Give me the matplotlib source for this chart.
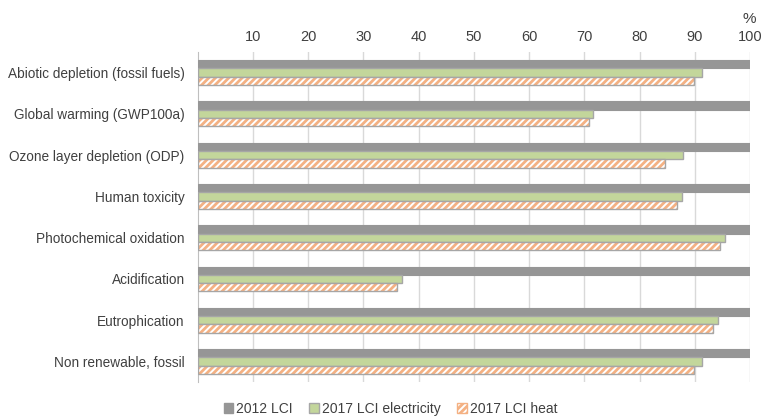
import matplotlib.pyplot as plt
import matplotlib.patches as mpatches
import numpy as np

plt.rcParams['font.family'] = ['Liberation Sans', 'DejaVu Sans']
plt.rcParams['hatch.linewidth'] = 2.0

# categories, top to bottom
categories = ['Abiotic depletion (fossil fuels)', 'Global warming (GWP100a)',
              'Ozone layer depletion (ODP)', 'Human toxicity',
              'Photochemical oxidation', 'Acidification', 'Eutrophication',
              'Non renewable, fossil']
lci_2012 = [100, 100, 100, 100, 100, 100, 100, 100]
lci_2017_elec = [91.3, 71.6, 87.9, 87.7, 95.5, 37.0, 94.2, 91.3]
lci_2017_heat = [89.8, 70.8, 84.6, 86.8, 94.5, 36.1, 93.3, 89.8]
xticks = [10, 20, 30, 40, 50, 60, 70, 80, 90, 100]

gray = '#969696'
green = '#c3d69b'
orange = '#f4b183'
edge = '#a6a6a6'
txt = '#404040'

fig = plt.figure(figsize=(7.61, 4.19), dpi=100)
ax = fig.add_axes([0.260, 0.088, 0.7255, 0.788])

y = np.arange(len(categories))
h = 0.2

ax.barh(y - h, lci_2012, height=h, color=gray, edgecolor=gray, linewidth=0.8, zorder=3)
ax.barh(y, lci_2017_elec, height=h, color=green, edgecolor=edge, linewidth=1.0, zorder=3)
# hatched bar: hatch drawn in orange, border drawn separately in gray
ax.barh(y + h, lci_2017_heat, height=h, color='white', edgecolor=orange,
        hatch='/////', linewidth=0, zorder=3)
ax.barh(y + h, lci_2017_heat, height=h, fill=False, edgecolor=edge, linewidth=1.0, zorder=4)

ax.set_xlim(0, 100)
ax.set_ylim(len(categories) - 0.5, -0.5)
ax.set_yticks(y)
ax.set_yticklabels(categories, fontsize=9.8, color=txt)
ax.set_xticks(xticks)
ax.xaxis.tick_top()
ax.tick_params(axis='x', length=0, pad=6, labelsize=10.5, labelcolor=txt)
ax.tick_params(axis='y', length=0, pad=9.5)
ax.grid(axis='x', color='#d9d9d9', linewidth=1, zorder=0)

for s in ['top', 'right', 'bottom']:
    ax.spines[s].set_visible(False)
ax.spines['left'].set_color('#bfbfbf')

fig.text(0.985, 0.955, '%', ha='center', va='center', fontsize=11, color=txt)

handles = [
    mpatches.Patch(facecolor=gray, edgecolor=gray, label='2012 LCI'),
    mpatches.Patch(facecolor=green, edgecolor=edge, label='2017 LCI electricity'),
    mpatches.Patch(facecolor='white', edgecolor=orange, hatch='/////', label='2017 LCI heat'),
]
fig.legend(handles=handles, loc='lower center', bbox_to_anchor=(0.513, -0.022), ncol=3,
           frameon=False, fontsize=10, handlelength=0.7, handleheight=0.7,
           handletextpad=0.2, columnspacing=1.2, labelcolor=txt)

fig.savefig('out.png', dpi=100)
